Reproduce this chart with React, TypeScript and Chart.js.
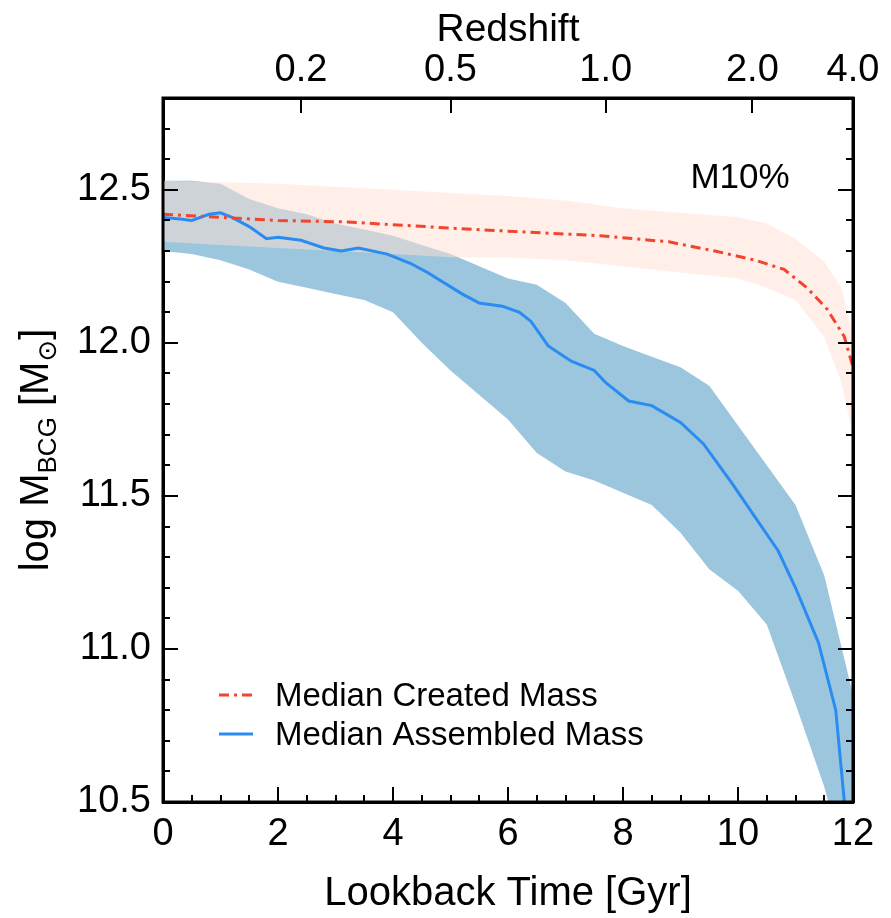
import React, { useEffect, useRef } from 'react';
import { Chart, registerables } from 'chart.js';

Chart.register(...registerables);

const FONT = '"Liberation Sans", Arial, sans-serif';

// Axis ranges and tick values
const X_MIN = 0;
const X_MAX = 12;
const Y_MIN = 10.5;
const Y_MAX = 12.8;
const X_MAJOR = [0, 2, 4, 6, 8, 10, 12];
const X_MINOR_STEP = 0.5;
const Y_MAJOR = [10.5, 11, 11.5, 12, 12.5];
const Y_MINOR_STEP = 0.1;
// Top axis: redshift labels placed at their lookback time (Gyr)
const Z_TICK_POS = [2.4, 5.0, 7.7, 10.25, 12.0];
const Z_TICK_LABELS = ['0.2', '0.5', '1.0', '2.0', '4.0'];

// Median assembled mass (blue solid)
const ASM_T = [0, 0.3, 0.5, 0.8, 1.0, 1.2, 1.5, 1.8, 2.0, 2.4, 2.8, 3.1, 3.4, 3.9, 4.3, 4.6, 5.2, 5.5, 5.9, 6.2, 6.4, 6.7, 7.1, 7.5, 7.7, 8.1, 8.5, 9.0, 9.4, 9.9, 10.3, 10.7, 11.0, 11.4, 11.7, 11.85, 12.0];
const ASM_M = [12.41, 12.405, 12.4, 12.42, 12.425, 12.41, 12.38, 12.34, 12.345, 12.335, 12.31, 12.3, 12.31, 12.29, 12.26, 12.23, 12.16, 12.13, 12.12, 12.1, 12.07, 11.99, 11.94, 11.91, 11.87, 11.81, 11.795, 11.74, 11.67, 11.54, 11.43, 11.32, 11.2, 11.02, 10.8, 10.5, 10.2];

// Assembled mass scatter band
const ASM_BAND_T = [0, 0.5, 1, 1.5, 2, 2.5, 3, 3.5, 4, 4.5, 5, 5.5, 6, 6.5, 7, 7.5, 8, 8.5, 9, 9.5, 10, 10.5, 11, 11.5, 12];
const ASM_HI = [12.53, 12.53, 12.52, 12.47, 12.44, 12.42, 12.39, 12.37, 12.35, 12.32, 12.29, 12.25, 12.21, 12.19, 12.13, 12.03, 11.99, 11.955, 11.92, 11.86, 11.73, 11.6, 11.47, 11.24, 10.85];
const ASM_LO = [12.3, 12.29, 12.27, 12.24, 12.2, 12.18, 12.16, 12.14, 12.1, 12.0, 11.91, 11.83, 11.75, 11.64, 11.58, 11.55, 11.51, 11.47, 11.38, 11.26, 11.19, 11.08, 10.82, 10.55, 10.2];

// Median created mass (red dash-dot)
const CRE_T = [0, 1, 2, 3.2, 5, 6, 7.6, 8.8, 9.6, 10.3, 10.8, 11.2, 11.55, 11.85, 12.0];
const CRE_M = [12.42, 12.41, 12.4, 12.395, 12.375, 12.365, 12.35, 12.33, 12.3, 12.27, 12.24, 12.18, 12.11, 12.02, 11.92];

// Created mass scatter band
const CRE_BAND_T = [0, 1, 2, 3, 4, 5, 6, 7, 8, 9, 10, 10.5, 11, 11.5, 11.8, 12];
const CRE_HI = [12.53, 12.525, 12.52, 12.51, 12.5, 12.49, 12.48, 12.465, 12.44, 12.425, 12.41, 12.39, 12.34, 12.265, 12.18, 12.02];
const CRE_LO = [12.33, 12.32, 12.31, 12.3, 12.29, 12.28, 12.28, 12.27, 12.25, 12.23, 12.21, 12.18, 12.14, 12.02, 11.87, 11.7];

const RED = '#f0452f';
const BLUE = '#2a8cf0';
const BLUE_BAND = '#9cc6de';
const RED_BAND = 'rgba(255,224,210,0.5)';
const RED_DASH = [10, 5, 3, 5];

const pts = (t: number[], m: number[]) => t.map((v, i) => ({ x: v, y: m[i] }));

const overlayPlugin = {
  id: 'overlay',
  afterDraw(chart: any) {
    const { ctx, chartArea: a, scales } = chart;
    const xs = scales.x;
    const ys = scales.y;
    ctx.save();
    // frame
    ctx.strokeStyle = '#000';
    ctx.lineWidth = 3;
    ctx.setLineDash([]);
    ctx.strokeRect(a.left, a.top, a.right - a.left, a.bottom - a.top);
    // inward ticks
    ctx.lineWidth = 2;
    const MAJ = 15;
    const MIN = 7;
    const line = (x1: number, y1: number, x2: number, y2: number) => {
      ctx.beginPath();
      ctx.moveTo(x1, y1);
      ctx.lineTo(x2, y2);
      ctx.stroke();
    };
    for (let v = X_MIN; v <= X_MAX + 1e-9; v += X_MINOR_STEP) {
      const px = Math.round(xs.getPixelForValue(v));
      const isMaj = X_MAJOR.some((m) => Math.abs(m - v) < 1e-6);
      line(px, a.bottom, px, a.bottom - (isMaj ? MAJ : MIN));
    }
    for (const v of Z_TICK_POS) {
      const px = Math.round(xs.getPixelForValue(v));
      line(px, a.top, px, a.top + MAJ);
    }
    for (let v = Y_MIN; v <= Y_MAX + 1e-9; v += Y_MINOR_STEP) {
      const py = Math.round(ys.getPixelForValue(v));
      const isMaj = Y_MAJOR.some((m) => Math.abs(m - v) < 1e-6);
      const len = isMaj ? MAJ : MIN;
      line(a.left, py, a.left + len, py);
      line(a.right, py, a.right - len, py);
    }

    // y-axis title with subscripts
    ctx.fillStyle = '#000';
    ctx.translate(48, (a.top + a.bottom) / 2);
    ctx.rotate(-Math.PI / 2);
    ctx.textBaseline = 'alphabetic';
    ctx.textAlign = 'left';
    const big = `40px ${FONT}`;
    const small = `26px ${FONT}`;
    const parts = [
      { t: 'log M', f: big, dy: 0 },
      { t: 'BCG', f: small, dy: 8 },
      { t: ' [M', f: big, dy: 0 },
      { t: '\u2299', f: `26px "DejaVu Sans", ${FONT}`, dy: 8 },
      { t: ']', f: big, dy: 0 },
    ];
    let total = 0;
    for (const p of parts) {
      ctx.font = p.f;
      total += ctx.measureText(p.t).width;
    }
    let cx = -total / 2;
    for (const p of parts) {
      ctx.font = p.f;
      ctx.fillText(p.t, cx, p.dy);
      cx += ctx.measureText(p.t).width;
    }
    ctx.restore();

    // legend (inside plot, lower left)
    ctx.save();
    const rows = [
      { ds: chart.data.datasets[0], y: a.bottom - 107 },
      { ds: chart.data.datasets[1], y: a.bottom - 68 },
    ];
    for (const r of rows) {
      ctx.strokeStyle = r.ds.borderColor;
      ctx.lineWidth = 3;
      ctx.setLineDash(r.ds.borderDash || []);
      line(a.left + 56, r.y, a.left + 90, r.y);
      ctx.setLineDash([]);
      ctx.fillStyle = '#000';
      ctx.font = `33px ${FONT}`;
      ctx.textBaseline = 'middle';
      ctx.textAlign = 'left';
      ctx.fillText(r.ds.label, a.left + 112, r.y + 2);
    }
    // panel label
    ctx.font = `35px ${FONT}`;
    ctx.textAlign = 'center';
    ctx.textBaseline = 'middle';
    ctx.fillText('M10%', a.right - 113, a.top + 80);
    ctx.restore();
  },
};

const axisBase = {
  type: 'linear' as const,
  grid: { display: false, drawTicks: false },
  border: { display: true, color: '#000', width: 3 },
};

export default function App() {
  const ref = useRef<HTMLCanvasElement>(null);
  useEffect(() => {
    if (!ref.current) return;
    const chart = new Chart(ref.current, {
      type: 'line',
      data: {
        datasets: [
          {
            label: 'Median Created Mass',
            data: pts(CRE_T, CRE_M),
            borderColor: RED,
            borderWidth: 3,
            borderDash: RED_DASH,
            pointRadius: 0,
            fill: false,
            order: 0,
          },
          {
            label: 'Median Assembled Mass',
            data: pts(ASM_T, ASM_M),
            borderColor: BLUE,
            borderWidth: 3,
            pointRadius: 0,
            fill: false,
            order: 1,
          },
          {
            label: 'created hi',
            data: pts(CRE_BAND_T, CRE_HI),
            borderWidth: 0,
            borderColor: 'rgba(0,0,0,0)',
            backgroundColor: RED_BAND,
            pointRadius: 0,
            fill: '+1',
            order: 2,
          },
          {
            label: 'created lo',
            data: pts(CRE_BAND_T, CRE_LO),
            borderWidth: 0,
            borderColor: 'rgba(0,0,0,0)',
            pointRadius: 0,
            fill: false,
            order: 3,
          },
          {
            label: 'assembled hi',
            data: pts(ASM_BAND_T, ASM_HI),
            borderWidth: 0,
            borderColor: 'rgba(0,0,0,0)',
            backgroundColor: BLUE_BAND,
            pointRadius: 0,
            fill: '+1',
            order: 4,
          },
          {
            label: 'assembled lo',
            data: pts(ASM_BAND_T, ASM_LO),
            borderWidth: 0,
            borderColor: 'rgba(0,0,0,0)',
            pointRadius: 0,
            fill: false,
            order: 5,
          },
        ],
      },
      options: {
        animation: false,
        responsive: false,
        devicePixelRatio: 1,
        layout: { padding: 0, autoPadding: false },
        plugins: {
          legend: { display: false },
          tooltip: { enabled: false },
        },
        scales: {
          x: {
            ...axisBase,
            position: 'bottom',
            min: X_MIN,
            max: X_MAX,
            afterBuildTicks: (s: any) => {
              s.ticks = X_MAJOR.map((v) => ({ value: v }));
            },
            ticks: { font: { family: FONT, size: 38 }, color: '#000', padding: 10, maxRotation: 0, autoSkip: false },
            title: { display: true, text: 'Lookback Time [Gyr]', font: { family: FONT, size: 40 }, color: '#000', padding: 0 },
            afterFit: (s: any) => {
              s.height = 116;
            },
          },
          x2: {
            ...axisBase,
            position: 'top',
            min: X_MIN,
            max: X_MAX,
            afterBuildTicks: (s: any) => {
              s.ticks = Z_TICK_POS.map((v) => ({ value: v }));
            },
            ticks: {
              font: { family: FONT, size: 38 },
              color: '#000',
              padding: 5,
              maxRotation: 0,
              autoSkip: false,
              callback: (_v: any, i: number) => Z_TICK_LABELS[i],
            },
            title: { display: true, text: 'Redshift', font: { family: FONT, size: 39 }, color: '#000', padding: { top: 7, bottom: 0 } },
            afterFit: (s: any) => {
              s.height = 98;
            },
          },
          y: {
            ...axisBase,
            position: 'left',
            min: Y_MIN,
            max: Y_MAX,
            afterBuildTicks: (s: any) => {
              s.ticks = Y_MAJOR.map((v) => ({ value: v }));
            },
            ticks: {
              font: { family: FONT, size: 38 },
              color: '#000',
              padding: 12,
              callback: (v: any) => Number(v).toFixed(1),
            },
            afterFit: (s: any) => {
              s.width = 163;
            },
          },
          y2: {
            ...axisBase,
            position: 'right',
            min: Y_MIN,
            max: Y_MAX,
            ticks: { display: false },
            afterFit: (s: any) => {
              s.width = 38;
            },
          },
        },
      },
      plugins: [overlayPlugin],
    } as any);
    return () => chart.destroy();
  }, []);
  return (
    <div style={{ position: 'absolute', left: 0, top: 0, width: 891, height: 918, background: '#fff' }}>
      <canvas ref={ref} width={891} height={918} style={{ display: 'block', width: 891, height: 918 }} />
    </div>
  );
}
